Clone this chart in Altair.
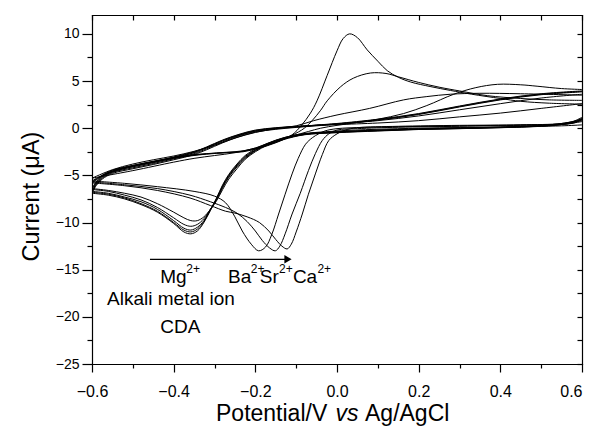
import altair as alt
import pandas as pd

FONT = "Liberation Sans"

# ---------------- data ----------------
# Mg2+ loops: cathodic sweep (0.6 -> -0.6) then anodic sweep (-0.6 -> 0.6)
mg_cx = [0.6, 0.58, 0.55, 0.5, 0.4, 0.3, 0.2, 0.1, 0.0, -0.08, -0.13, -0.17, -0.2, -0.225,
         -0.245, -0.265, -0.28, -0.295, -0.31, -0.326, -0.342, -0.358, -0.375, -0.4, -0.44,
         -0.48, -0.52, -0.56, -0.6]
mg1_cy = [1.15, 0.75, 0.5, 0.3, 0.12, 0.02, -0.06, -0.2, -0.38, -0.6, -1.0, -1.6, -2.2, -2.9,
          -3.8, -4.9, -6.0, -7.4, -8.7, -10.0, -10.9, -11.2, -11.0, -10.1, -8.9, -8.1, -7.5, -7.1, -6.9]
mg2_cy = [1.05, 0.7, 0.45, 0.28, 0.1, 0.0, -0.08, -0.22, -0.4, -0.62, -1.05, -1.65, -2.3, -3.0,
          -3.9, -5.0, -6.1, -7.5, -8.7, -9.9, -10.7, -11.0, -10.8, -10.0, -8.8, -8.0, -7.4, -7.0, -6.8]
mg3_cy = [1.0, 0.65, 0.42, 0.25, 0.08, -0.02, -0.1, -0.25, -0.42, -0.65, -1.1, -1.7, -2.35, -3.1,
          -4.0, -5.1, -6.2, -7.5, -8.6, -9.8, -10.5, -10.8, -10.6, -9.8, -8.6, -7.8, -7.3, -6.9, -6.7]
mg4_cy = [0.95, 0.6, 0.4, 0.22, 0.06, -0.04, -0.12, -0.27, -0.45, -0.68, -1.15, -1.75, -2.4, -3.2,
          -4.1, -5.2, -6.3, -7.6, -8.6, -9.6, -10.2, -10.4, -10.2, -9.5, -8.4, -7.6, -7.1, -6.7, -6.5]
mg5_cy = [0.9, 0.55, 0.38, 0.2, 0.05, -0.05, -0.14, -0.3, -0.48, -0.7, -1.2, -1.8, -2.5, -3.3,
          -4.3, -5.4, -6.5, -7.7, -8.6, -9.4, -9.8, -9.8, -9.5, -8.9, -8.0, -7.3, -6.9, -6.6, -6.4]

mg_ax = [-0.6, -0.59, -0.575, -0.55, -0.5, -0.45, -0.4, -0.35, -0.32, -0.28, -0.24, -0.2, -0.15,
         -0.1, -0.05, 0.0, 0.1, 0.2, 0.3, 0.4, 0.5, 0.6]
mg1_ay = [-6.9, -6.1, -5.4, -4.8, -4.3, -3.85, -3.35, -2.8, -2.3, -1.55, -0.9, -0.42, -0.12,
          0.08, 0.25, 0.42, 0.85, 1.45, 2.25, 3.0, 3.55, 3.85]
mg2_ay = [-6.8, -6.0, -5.3, -4.7, -4.2, -3.75, -3.25, -2.7, -2.2, -1.45, -0.8, -0.35, -0.06,
          0.12, 0.3, 0.46, 0.9, 1.5, 2.3, 3.05, 3.6, 3.9]
mg3_ay = [-6.7, -5.9, -5.2, -4.6, -4.1, -3.65, -3.15, -2.6, -2.1, -1.35, -0.75, -0.3, -0.02,
          0.15, 0.33, 0.5, 0.95, 1.55, 2.35, 3.1, 3.65, 3.95]
mg4_ay = [-6.5, -5.8, -5.1, -4.5, -4.0, -3.6, -3.1, -2.55, -2.05, -1.3, -0.7, -0.25, 0.02,
          0.18, 0.32, 0.45, 0.8, 1.3, 1.95, 2.6, 3.2, 3.6]
mg5_ay = [-6.4, -5.7, -5.0, -4.45, -3.95, -3.55, -3.05, -2.5, -2.0, -1.25, -0.65, -0.2, 0.05,
          0.2, 0.3, 0.38, 0.55, 0.8, 1.2, 1.6, 2.1, 2.6]

# Ba2+
ba_cx = [0.6, 0.55, 0.45, 0.3, 0.15, 0.0, -0.03, -0.045, -0.06, -0.077, -0.095, -0.11, -0.127,
         -0.143, -0.16, -0.175, -0.192, -0.21, -0.232, -0.25, -0.273, -0.3, -0.35, -0.44, -0.52, -0.6]
ba_cy = [0.9, 0.5, 0.35, 0.25, 0.15, -0.05, -0.3, -0.6, -1.0, -1.7, -3.2, -4.85, -7.0,
         -9.1, -11.3, -12.6, -13.0, -12.3, -10.9, -9.4, -7.9, -7.2, -6.7, -6.2, -5.85, -5.6]
ba_ax = [-0.6, -0.58, -0.55, -0.5, -0.45, -0.4, -0.36, -0.32, -0.27, -0.23, -0.19, -0.15, -0.11,
         -0.07, -0.04, 0.0, 0.05, 0.1, 0.163, 0.22, 0.286, 0.34, 0.393, 0.45, 0.49, 0.55, 0.6]
ba_ay = [-5.6, -5.1, -4.55, -3.95, -3.5, -3.1, -2.85, -2.7, -2.55, -2.4, -2.0, -1.45, -0.85,
         -0.35, 0.0, 0.3, 0.6, 0.95, 1.55, 2.4, 3.6, 4.3, 4.65, 4.6, 4.45, 4.2, 4.1]

# Sr2+
sr_cx = [0.6, 0.55, 0.45, 0.3, 0.15, 0.05, 0.0, -0.02, -0.036, -0.053, -0.07, -0.09, -0.11,
         -0.127, -0.14, -0.151, -0.165, -0.183, -0.2, -0.22, -0.245, -0.273, -0.31, -0.36, -0.44,
         -0.52, -0.6]
sr_cy = [0.7, 0.4, 0.3, 0.2, 0.1, -0.05, -0.2, -0.6, -1.3, -2.7, -4.5, -6.9, -9.1,
         -11.2, -12.5, -13.0, -12.7, -11.9, -10.9, -9.9, -9.0, -8.4, -7.8, -7.1, -6.4, -6.0, -5.7]
sr_ax = [-0.6, -0.58, -0.55, -0.5, -0.45, -0.4, -0.36, -0.32, -0.27, -0.23, -0.19, -0.15, -0.11,
         -0.08, -0.06, -0.04, -0.024, 0.009, 0.04, 0.082, 0.12, 0.15, 0.2, 0.25, 0.3, 0.368, 0.45,
         0.52, 0.6]
sr_ay = [-5.7, -5.15, -4.6, -4.0, -3.55, -3.15, -2.9, -2.72, -2.58, -2.45, -2.05, -1.5, -0.75,
         0.0, 0.85, 1.9, 2.9, 4.4, 5.3, 5.85, 5.8, 5.45, 4.85, 4.35, 3.95, 3.45, 3.15, 3.0, 2.95]

# Ca2+
ca_cx = [0.6, 0.55, 0.45, 0.3, 0.15, 0.05, 0.02, 0.0, -0.02, -0.036, -0.053, -0.07, -0.085,
         -0.1, -0.112, -0.122, -0.135, -0.15, -0.167, -0.19, -0.22, -0.25, -0.273, -0.31, -0.36,
         -0.44, -0.52, -0.6]
ca_cy = [0.8, 0.45, 0.35, 0.3, 0.2, 0.05, -0.2, -0.6, -1.3, -2.8, -4.85, -7.0, -9.1,
         -11.0, -12.3, -12.8, -12.5, -11.8, -10.9, -10.0, -9.4, -9.0, -8.8, -8.2, -7.4,
         -6.6, -6.1, -5.8]
ca_ax = [-0.6, -0.58, -0.55, -0.5, -0.45, -0.4, -0.36, -0.32, -0.27, -0.23, -0.19, -0.15, -0.11,
         -0.087, -0.065, -0.049, -0.024, 0.0, 0.015, 0.031, 0.05, 0.074, 0.1, 0.123, 0.15, 0.18,
         0.23, 0.278, 0.33, 0.4, 0.45, 0.52, 0.6]
ca_ay = [-5.8, -5.2, -4.65, -4.05, -3.6, -3.2, -2.95, -2.75, -2.6, -2.5, -2.1, -1.55, -0.7,
         0.3, 1.6, 2.9, 5.6, 8.2, 9.5, 10.0, 9.6, 8.3, 7.1, 6.1, 5.4, 4.9,
         4.4, 4.0, 3.6, 3.15, 2.85, 2.65, 2.55]

# CDA (no metal ion)
cda_cx = [0.6, 0.55, 0.4, 0.2, 0.0, -0.1, -0.15, -0.2, -0.25, -0.3, -0.35, -0.4, -0.5, -0.6]
cda_cy = [0.35, 0.25, 0.12, 0.0, -0.3, -0.7, -1.3, -2.1, -2.6, -2.9, -3.2, -3.6, -4.5, -5.3]
cda_ax = [-0.6, -0.55, -0.5, -0.45, -0.4, -0.35, -0.3, -0.25, -0.2, -0.15, -0.1, -0.057, 0.0,
          0.08, 0.163, 0.22, 0.278, 0.35, 0.45, 0.6]
cda_ay = [-5.3, -4.4, -3.8, -3.35, -2.95, -2.45, -1.8, -1.05, -0.45, -0.05, 0.25, 0.8, 1.4,
          2.1, 3.0, 3.35, 3.6, 3.7, 3.65, 3.5]

# annotation texts (data coordinates)
ann_text = ["Mg", "Ba", "Sr", "Ca", "Alkali metal ion", "CDA"]
ann_x = [-0.433, -0.267, -0.189, -0.108, -0.563, -0.433]
ann_y = [-16.4, -16.4, -16.4, -16.4, -18.75, -21.7]
sup_text = ["2+", "2+", "2+", "2+"]
sup_x = [-0.369, -0.211, -0.142, -0.048]
sup_y = [-15.35, -15.35, -15.35, -15.35]
arrow_x = [-0.458]
arrow_x2 = [-0.12]
arrow_y = [-13.9]

x_ticks = [-0.6, -0.5, -0.4, -0.3, -0.2, -0.1, 0.0, 0.1, 0.2, 0.3, 0.4, 0.5, 0.6]
y_ticks = [-25, -22.5, -20, -17.5, -15, -12.5, -10, -7.5, -5, -2.5, 0, 2.5, 5, 7.5, 10]

x_title_parts = ["Potential/V", "vs", "Ag/AgCl"]
x_title_styles = ["normal", "italic", "normal"]

# ---------------- build tables ----------------
loops = [
    ("Mg1", mg_cx, mg1_cy, mg_ax, mg1_ay),
    ("Mg2", mg_cx, mg2_cy, mg_ax, mg2_ay),
    ("Mg3", mg_cx, mg3_cy, mg_ax, mg3_ay),
    ("Mg4", mg_cx, mg4_cy, mg_ax, mg4_ay),
    ("Mg5", mg_cx, mg5_cy, mg_ax, mg5_ay),
    ("Ba", ba_cx, ba_cy, ba_ax, ba_ay),
    ("Sr", sr_cx, sr_cy, sr_ax, sr_ay),
    ("Ca", ca_cx, ca_cy, ca_ax, ca_ay),
    ("CDA", cda_cx, cda_cy, cda_ax, cda_ay),
]
rows = []
for name, cx, cy, ax, ay in loops:
    xs = cx + ax
    ys = cy + ay
    for i, (xv, yv) in enumerate(zip(xs, ys)):
        rows.append({"curve": name, "i": i, "x": xv, "y": yv})
df = pd.DataFrame(rows)

ann = pd.DataFrame({"t": ann_text, "x": ann_x, "y": ann_y})
sup = pd.DataFrame({"t": sup_text, "x": sup_x, "y": sup_y})
arr = pd.DataFrame({"x": arrow_x, "x2": arrow_x2, "y": arrow_y})

xscale = alt.Scale(domain=[-0.6, 0.6], nice=False, zero=False)
yscale = alt.Scale(domain=[-25, 12], nice=False, zero=False)

x_major = "abs(round(datum.value*10)) % 2 == 0"
y_major = "datum.value % 5 == 0"

x_axis = alt.Axis(
    values=x_ticks, format=".1f", labelExpr=f"{x_major} ? datum.label : ''",
    tickSize={"condition": {"test": x_major, "value": 8}, "value": 4},
    tickColor="black", tickWidth=1.2, domainColor="black", domainWidth=1.2,
    labelFont=FONT, labelFontSize=16, labelColor="black", labelPadding=11,
    labelFlush=False, labelOverlap=False, labelBound=False,
    labelAlign={"condition": {"test": "datum.value > 0.55", "value": "right"}, "value": "center"},
    grid=False, title=None,
)
y_axis = alt.Axis(
    values=y_ticks, format=".0f", labelExpr=f"{y_major} ? datum.label : ''",
    tickSize={"condition": {"test": y_major, "value": 10}, "value": 5},
    tickColor="black", tickWidth=1.2, domainColor="black", domainWidth=1.2,
    labelFont=FONT, labelFontSize=14, labelColor="black", labelPadding=3,
    labelFlush=False, labelOverlap=False, labelBound=False,
    grid=False, title="Current (μA)", titleFont=FONT, titleFontSize=23.5,
    titleFontWeight="normal", titleColor="black", titleX=-54, titleY=181,
    titleAlign="center", titleBaseline="alphabetic", titleAngle=270,
)

lines = alt.Chart(df).mark_line(
    color="black", strokeWidth=1, interpolate="catmull-rom", clip=True
).encode(
    x=alt.X("x:Q", scale=xscale, axis=x_axis),
    y=alt.Y("y:Q", scale=yscale, axis=y_axis),
    detail="curve:N",
    order="i:Q",
)

mirror = alt.Chart(df).mark_line(opacity=0).encode(
    x=alt.X("x:Q", scale=xscale, axis=alt.Axis(
        orient="top", values=x_ticks, labels=False, title=None, grid=False,
        tickSize={"expr": "-5"}, tickColor="black", tickWidth=1.2,
        domainColor="black", domainWidth=1.2)),
    y=alt.Y("y:Q", scale=yscale, axis=alt.Axis(
        orient="right", values=y_ticks, labels=False, title=None, grid=False,
        tickSize={"expr": "-5"}, tickColor="black", tickWidth=1.2,
        domainColor="black", domainWidth=1.2)),
    detail="curve:N",
    order="i:Q",
)

arrow_line = alt.Chart(arr).mark_rule(color="black", strokeWidth=1.2).encode(
    x=alt.X("x:Q", scale=xscale, axis=None), x2="x2:Q",
    y=alt.Y("y:Q", scale=yscale, axis=None)
)
arrow_head = alt.Chart(arr).mark_point(
    shape="triangle-right", filled=True, color="black", size=70, opacity=1
).encode(x=alt.X("x2:Q", scale=xscale, axis=None),
         y=alt.Y("y:Q", scale=yscale, axis=None))

ann_layer = alt.Chart(ann).mark_text(
    font=FONT, fontSize=19, align="left", baseline="alphabetic", color="black"
).encode(x=alt.X("x:Q", scale=xscale, axis=None),
         y=alt.Y("y:Q", scale=yscale, axis=None), text="t:N")

sup_layer = alt.Chart(sup).mark_text(
    font=FONT, fontSize=12, align="left", baseline="alphabetic", color="black"
).encode(x=alt.X("x:Q", scale=xscale, axis=None),
         y=alt.Y("y:Q", scale=yscale, axis=None), text="t:N")

xt_df = pd.DataFrame({"t": x_title_parts, "s": x_title_styles})
title_x_px = [124, 243.5, 273]
xt_layers = []
for k in range(3):
    xt_layers.append(
        alt.Chart(xt_df.iloc[[k]]).mark_text(
            font=FONT, fontSize=23, fontStyle=x_title_styles[k],
            align="left", baseline="alphabetic", color="black"
        ).encode(x=alt.value(title_x_px[k]), y=alt.value(406), text="t:N")
    )

chart = alt.layer(
    lines, mirror, arrow_line, arrow_head, ann_layer, sup_layer, *xt_layers
).resolve_axis(x="independent", y="independent").properties(
    width=490, height=349,
    autosize=alt.AutoSizeParams(type="none"),
    padding={"left": 84, "top": 7, "right": 4, "bottom": 62},
).configure_view(stroke=None).configure_axis(domainCap="square")

chart.save("out.html", embed_options={"renderer": "svg", "actions": False})
